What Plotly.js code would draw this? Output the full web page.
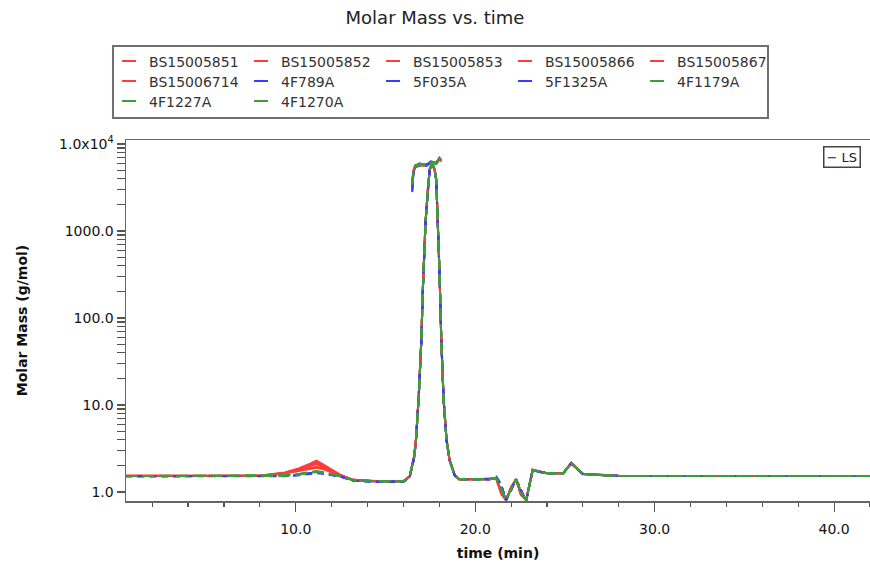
<!DOCTYPE html>
<html>
<head>
<meta charset="utf-8">
<script src="https://cdn.plot.ly/plotly-3.0.1.min.js"></script>
<style>html,body{margin:0;padding:0;background:#fff;}#chart{width:870px;height:567px;}</style>
</head>
<body>
<div id="chart"></div>
<script>
// ---- data ----
const seriesNames = ['BS15005851','BS15005852','BS15005853','BS15005866','BS15005867','BS15006714','4F789A','5F035A','5F1325A','4F1179A','4F1227A','4F1270A'];
const seriesColors = ['#ff3b3b','#ff3b3b','#ff3b3b','#ff3b3b','#ff3b3b','#ff3b3b','#3b3bff','#3b3bff','#3b3bff','#3a9e3a','#3a9e3a','#3a9e3a'];
const seriesDash = ['solid','solid','solid','solid','solid','solid','7px,5px','7px,5px','7px,5px','12px,5px','12px,5px','12px,5px'];
const legendRow = ['legend','legend','legend','legend','legend','legend2','legend2','legend2','legend2','legend2','legend3','legend3'];

const time = [0.5, 2, 4, 6, 8, 9.4, 10.2, 10.8, 11.15, 11.5, 12.0, 12.5, 13.2, 14.5, 16.0,
  16.35, 16.6, 16.7, 16.85, 17.0, 17.08, 17.23, 17.36, 17.46, 17.6, 17.74, 17.83, 17.92, 18.01, 18.11, 18.24, 18.4, 18.57, 18.85, 19.1,
  20.0, 20.8, 21.17, 21.45, 21.72, 22.0, 22.28, 22.55, 22.84, 23.2, 23.58, 24.0, 24.9, 25.35, 26.0,
  28, 32, 36, 40, 42];
const topTime = [16.49, 16.55, 16.65, 16.9, 17.27, 17.55, 17.83, 18.01, 18.12];

const BS15005851 = [1.54,1.53,1.54,1.53,1.54, 1.67,1.85,2.05,2.25,2.05,1.78,1.56, 1.38,1.33,1.33,
  1.52,2.6,4.1,12.5,58,215,1260,3000,5100,6100,5100,3900,1260,340,58,11.8,4.1,2.35,1.58,1.41,
  1.40,1.40,1.42,0.95,0.80,1.15,1.40,0.92,0.82,1.80,1.72,1.65,1.64,2.16,1.62, 1.54,1.53,1.53,1.53,1.53];
const BS15005852 = [1.53,1.54,1.53,1.54,1.53, 1.65,1.80,1.98,2.10,1.95,1.72,1.55, 1.37,1.33,1.34,
  1.50,2.5,3.9,12,55,205,1220,2900,5000,6000,5000,3800,1220,320,54,11.2,3.9,2.3,1.56,1.40,
  1.40,1.41,1.44,1.00,0.82,1.10,1.39,0.95,0.80,1.78,1.71,1.64,1.63,2.12,1.60, 1.53,1.53,1.53,1.53,1.53];
const BS15005853 = [1.54,1.54,1.53,1.54,1.54, 1.68,1.88,2.12,2.30,2.10,1.80,1.57, 1.38,1.34,1.33,
  1.53,2.65,4.2,13,60,220,1280,3050,5200,6200,5200,3950,1280,345,60,12,4.2,2.4,1.59,1.41,
  1.41,1.40,1.43,0.97,0.81,1.12,1.41,0.93,0.81,1.81,1.72,1.65,1.65,2.18,1.62, 1.54,1.53,1.53,1.53,1.53];
const BS15005866 = [1.53,1.53,1.54,1.53,1.53, 1.64,1.76,1.88,1.95,1.88,1.70,1.55, 1.37,1.33,1.33,
  1.51,2.55,4.0,12.2,56,212,1250,2980,5050,6050,5050,3880,1250,335,57,11.5,4.0,2.33,1.57,1.40,
  1.40,1.40,1.45,1.02,0.83,1.08,1.40,0.96,0.80,1.79,1.71,1.64,1.64,2.14,1.61, 1.53,1.53,1.53,1.53,1.53];
const BS15005867 = [1.54,1.53,1.53,1.54,1.54, 1.66,1.82,2.02,2.15,2.00,1.75,1.56, 1.38,1.33,1.33,
  1.52,2.58,4.05,12.3,57,210,1240,2950,5000,6000,5000,3850,1240,330,56,11.4,4.0,2.33,1.57,1.40,
  1.40,1.41,1.43,0.98,0.81,1.13,1.40,0.94,0.81,1.80,1.72,1.65,1.64,2.15,1.62, 1.53,1.53,1.53,1.53,1.53];
const BS15006714 = [1.53,1.54,1.53,1.53,1.54, 1.63,1.74,1.85,1.90,1.84,1.68,1.54, 1.37,1.33,1.34,
  1.50,2.52,3.95,11.8,55,208,1230,2940,4980,5980,4980,3830,1230,325,55,11.3,3.95,2.32,1.56,1.40,
  1.40,1.40,1.44,0.99,0.82,1.11,1.40,0.95,0.81,1.79,1.71,1.64,1.64,2.13,1.61, 1.53,1.53,1.53,1.53,1.53];
const S4F789A = [1.52,1.52,1.52,1.52,1.52, 1.53,1.57,1.63,1.68,1.64,1.57,1.50, 1.35,1.31,1.31,
  1.49,2.5,3.9,12,55,205,1230,2900,5000,6000,5000,3860,1240,335,56,11.4,4.0,2.33,1.57,1.40,
  1.40,1.40,1.50,1.20,0.81,1.05,1.40,1.05,0.79,1.76,1.71,1.64,1.64,2.14,1.61, 1.53,1.53,1.53,1.53,1.53];
const S5F035A = [1.52,1.52,1.51,1.52,1.52, 1.52,1.56,1.61,1.65,1.62,1.56,1.50, 1.35,1.31,1.31,
  1.48,2.45,3.85,11.8,54,200,1210,2870,4950,5950,4950,3820,1220,330,55,11.2,3.95,2.3,1.56,1.40,
  1.40,1.40,1.52,1.22,0.80,1.03,1.40,1.08,0.79,1.75,1.70,1.64,1.64,2.13,1.61, 1.53,1.53,1.53,1.53,1.53];
const S5F1325A = [1.52,1.52,1.52,1.52,1.51, 1.53,1.58,1.65,1.70,1.66,1.58,1.51, 1.35,1.31,1.31,
  1.49,2.52,3.95,12.1,56,207,1240,2920,5020,6020,5020,3870,1240,335,56,11.4,4.0,2.33,1.57,1.40,
  1.40,1.40,1.51,1.18,0.82,1.06,1.40,1.06,0.80,1.77,1.71,1.64,1.64,2.14,1.61, 1.53,1.53,1.53,1.53,1.53];
const S4F1179A = [1.53,1.53,1.53,1.53,1.53, 1.55,1.60,1.67,1.72,1.68,1.60,1.52, 1.37,1.33,1.33,
  1.50,2.55,4.0,12,56,210,1240,2960,5000,6000,5000,3860,1240,330,56,11.4,4.0,2.33,1.57,1.40,
  1.40,1.40,1.45,1.10,0.82,1.10,1.40,1.00,0.80,1.79,1.71,1.64,1.64,2.14,1.61, 1.53,1.53,1.53,1.53,1.53];
const S4F1227A = [1.53,1.53,1.53,1.54,1.53, 1.54,1.59,1.66,1.70,1.66,1.59,1.52, 1.37,1.33,1.33,
  1.50,2.53,3.98,12,56,208,1235,2950,5010,6010,5010,3850,1235,328,56,11.3,4.0,2.33,1.57,1.40,
  1.40,1.40,1.46,1.12,0.83,1.09,1.40,1.02,0.81,1.78,1.71,1.64,1.64,2.14,1.61, 1.53,1.53,1.53,1.53,1.53];
const S4F1270A = [1.53,1.54,1.53,1.53,1.53, 1.56,1.62,1.70,1.75,1.70,1.61,1.52, 1.37,1.33,1.33,
  1.50,2.56,4.02,12.2,57,212,1245,2970,5030,6030,5030,3870,1245,332,56,11.5,4.0,2.34,1.57,1.40,
  1.40,1.40,1.45,1.08,0.81,1.11,1.40,0.99,0.80,1.80,1.71,1.64,1.64,2.15,1.61, 1.53,1.53,1.53,1.53,1.53];

const topBS15005851 = [3300,4700,5500,5700,5800,6100,6100,6700,6400];
const topBS15005852 = [3400,4800,5600,5800,5700,6200,6000,6600,6300];
const topBS15005853 = [3200,4600,5400,5600,5900,6000,6200,6800,6500];
const topBS15005866 = [3500,4900,5600,5900,5700,6300,6000,6700,6400];
const topBS15005867 = [3300,4700,5500,5800,5800,6100,6100,6900,6600];
const topBS15006714 = [3400,4800,5500,5700,5600,6200,6000,6700,6500];
const top4F789A = [2900,4500,5500,5900,5600,6300,5900,6900,6600];
const top5F035A = [2800,4400,5400,5800,5700,6200,6000,7000,6700];
const top5F1325A = [3000,4600,5600,6000,5600,6400,5900,6800,6500];
const top4F1179A = [3500,4800,5600,5800,5700,6200,6000,6800,6500];
const top4F1227A = [3600,4900,5700,5900,5800,6300,6100,6900,6600];
const top4F1270A = [3400,4700,5500,5800,5600,6100,5900,6700,6400];

const seriesValues = [BS15005851,BS15005852,BS15005853,BS15005866,BS15005867,BS15006714,S4F789A,S5F035A,S5F1325A,S4F1179A,S4F1227A,S4F1270A];
const seriesTops = [topBS15005851,topBS15005852,topBS15005853,topBS15005866,topBS15005867,topBS15006714,top4F789A,top5F035A,top5F1325A,top4F1179A,top4F1227A,top4F1270A];

const yTickVals = [1, 10, 100, 1000, 10000];
const yTickText = ['1.0', '10.0', '100.0', '1000.0', '1.0x10<sup>4</sup>'];
const yMinorVals = [2,3,4,5,6,7,8,9,20,30,40,50,60,70,80,90,200,300,400,500,600,700,800,900,2000,3000,4000,5000,6000,7000,8000,9000];

// ---- traces ----
const FONT = 'DejaVu Sans, Verdana, sans-serif';
const traces = [];
seriesNames.forEach((name, i) => {
  traces.push({
    type: 'scatter', mode: 'lines', name: name, legendgroup: name, showlegend: false,
    x: time.concat([null], topTime),
    y: seriesValues[i].concat([null], seriesTops[i]),
    connectgaps: false,
    line: {color: seriesColors[i], width: 2, dash: seriesDash[i]},
    hoverinfo: 'x+y+name'
  });
});
seriesNames.forEach((name, i) => {
  traces.push({
    type: 'scatter', mode: 'markers', name: name, legendgroup: name, showlegend: true,
    legend: legendRow[i],
    x: [null], y: [null],
    marker: {symbol: 'line-ew', size: 10, color: seriesColors[i], line: {color: seriesColors[i], width: 2}}
  });
});

function legendRowLayout(yPaper) {
  return {
    orientation: 'h', x: -0.0228, xanchor: 'left', y: yPaper, yanchor: 'top',
    borderwidth: 0, bgcolor: 'rgba(0,0,0,0)',
    font: {family: FONT, size: 14, color: '#333'},
    entrywidth: 87, entrywidthmode: 'pixels', itemwidth: 30, traceorder: 'normal'
  };
}

const layout = {
  width: 870, height: 567,
  margin: {l: 126, r: 0, t: 140, b: 66},
  paper_bgcolor: '#fff', plot_bgcolor: '#fff',
  font: {family: FONT, color: '#222', size: 14},
  title: {text: 'Molar Mass vs. time', x: 0.5, xref: 'container', y: 0.968, yref: 'container', yanchor: 'middle',
          font: {family: FONT, size: 18, color: '#222'}},
  showlegend: true,
  legend: legendRowLayout(1.2618),
  legend2: legendRowLayout(1.2064),
  legend3: legendRowLayout(1.1510),
  shapes: [{
    type: 'rect', xref: 'paper', yref: 'paper',
    x0: -0.0175, x1: 0.8629, y0: 1.061, y1: 1.2604,
    line: {color: '#707070', width: 2}, fillcolor: 'rgba(0,0,0,0)', layer: 'below'
  }],
  xaxis: {
    range: [0.54, 42], showgrid: false, zeroline: false,
    showline: true, linecolor: '#666', linewidth: 1.5, mirror: true,
    ticks: 'outside', ticklen: 9, tickwidth: 1.2, tickcolor: '#555',
    tick0: 0, dtick: 10, tickformat: '.1f', ticklabelstandoff: 6,
    tickfont: {family: FONT, size: 14, color: '#111'},
    minor: {dtick: 2, tick0: 0, ticks: 'outside', ticklen: 4, tickwidth: 1.2, tickcolor: '#555', showgrid: false},
    title: {text: '<b>time (min)</b>', standoff: 12, font: {family: FONT, size: 14, color: '#111'}}
  },
  yaxis: {
    type: 'log', range: [-0.103, 4.046], showgrid: false, zeroline: false,
    showline: true, linecolor: '#666', linewidth: 1.5, mirror: false,
    ticks: 'outside', ticklen: 8, tickwidth: 1.2, tickcolor: '#555',
    tickmode: 'array', tickvals: yTickVals, ticktext: yTickText,
    tickfont: {family: FONT, size: 14, color: '#111'},
    minor: {tickmode: 'array', tickvals: yMinorVals, ticks: 'outside', ticklen: 8, tickwidth: 1.2, tickcolor: '#555', showgrid: false},
    title: {text: '<b>Molar Mass (g/mol)</b>', standoff: 28, font: {family: FONT, size: 14, color: '#111'}}
  },
  annotations: [{
    text: '− LS', xref: 'paper', yref: 'paper', x: 1, xanchor: 'right', xshift: -9,
    y: 0.983, yanchor: 'top', showarrow: false,
    font: {family: FONT, size: 13, color: '#222'},
    bordercolor: '#444', borderwidth: 1.5, borderpad: 2, bgcolor: '#fff'
  }]
};

Plotly.newPlot('chart', traces, layout, {displayModeBar: false, staticPlot: true});
</script>
</body>
</html>
